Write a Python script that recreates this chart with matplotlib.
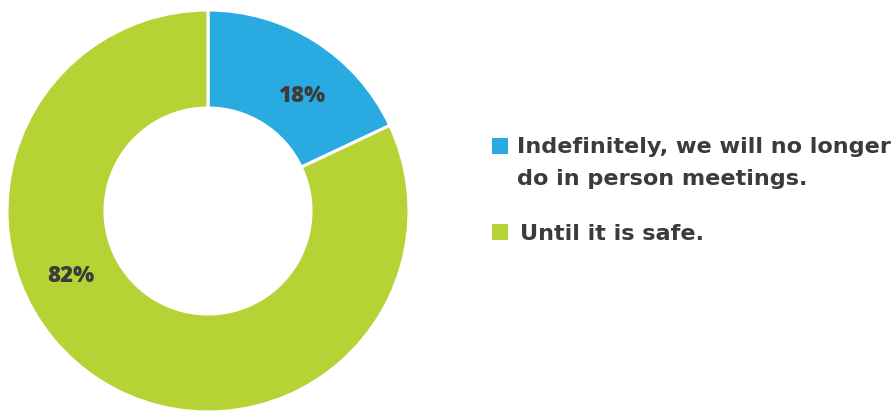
import matplotlib.pyplot as plt
from matplotlib.patches import Rectangle

# share of respondents: how long in-person meetings stay off
labels = ["Indefinitely, we will no longer\ndo in person meetings.", "Until it is safe."]
values = [18, 82]
colors = ["#29abe2", "#b5d334"]
text_color = "#3b3b3b"

W, H = 895, 411
fig = plt.figure(figsize=(W / 100, H / 100), dpi=100)
ax = fig.add_axes([0, 0, 1, 1])

# pie is laid out in pixel units so the ring sits where it should
cx, cy = 208, H - 211
R = 201
wedges, _ = ax.pie(values, colors=colors, startangle=90, counterclock=False,
                   center=(cx, cy), radius=R,
                   wedgeprops=dict(width=98, edgecolor="white", linewidth=2.2))
ax.set_xlim(0, W)
ax.set_ylim(0, H)
ax.set_aspect("equal")
ax.axis("off")

# percentage labels
pct_pos = [(302, H - 96), (71, H - 276)]
for v, (x, y) in zip(values, pct_pos):
    ax.text(x, y, f"{v}%", ha="center", va="center", fontsize=16,
            fontweight="heavy", family="Open Sans", color=text_color)

# legend drawn by hand (baseline of the last line of each label)
leg_rows = [(492, H - 154, 517, H - 185), (492, H - 240, 520, H - 240)]
for lab, col, (sx, sy, tx, ty) in zip(labels, colors, leg_rows):
    ax.add_patch(Rectangle((sx, sy), 16, 16, facecolor=col, edgecolor="none"))
    ax.text(tx, ty, lab, ha="left", va="baseline", fontsize=16.1,
            fontweight="bold", family="DejaVu Sans", color=text_color,
            linespacing=1.76)

fig.savefig("out.png", dpi=100)
